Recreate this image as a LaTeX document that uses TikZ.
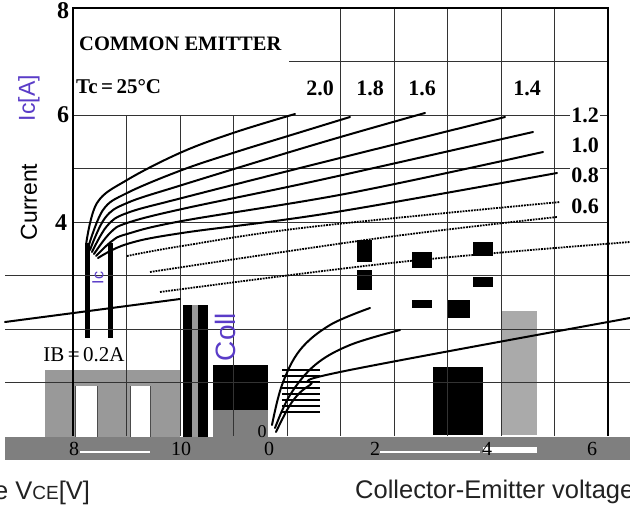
\documentclass[tikz,border=0pt]{standalone}
\usepackage{fontspec}
\setmainfont{Liberation Serif}
\newfontfamily\arialf{Liberation Sans}
\definecolor{bandgray}{HTML}{7F7F7F}
\definecolor{blockgray}{HTML}{999999}
\definecolor{lightbar}{HTML}{AAAAAA}
\definecolor{purp}{HTML}{5A3CC8}
\definecolor{axtext}{HTML}{222222}
\begin{document}
\begin{tikzpicture}[x=1pt,y=-1pt,
  gridline/.style={draw=black!80,line width=0.9pt},
  frameline/.style={draw=black,line width=1.5pt},
  curve/.style={draw=black,line width=2pt,line cap=round},
  dotcurve/.style={draw=black,line width=1.8pt,densely dotted},
  serlbl/.style={font=\bfseries\fontsize{22}{22}\selectfont,inner sep=1pt},
  tiklbl/.style={font=\bfseries\fontsize{22}{22}\selectfont,inner sep=1pt,fill=white},
  sanslbl/.style={font=\arialf\fontsize{25.5}{25.5}\selectfont,text=axtext,inner sep=0pt},
  vlbl/.style={font=\arialf\fontsize{23}{23}\selectfont,rotate=90,inner sep=0pt}]
\fill[white] (0,0) rectangle (630,512);
\useasboundingbox (0,0) rectangle (630,512);

% ---- lower glitch blocks (background) ----
\fill[blockgray] (45,370) rectangle (180,437);
\fill[white] (75,386) rectangle (97,437);
\fill[white] (130,386) rectangle (150,437);
\draw[black!70,line width=1pt] (75,386) -- (75,437) (97,386) -- (97,437) (130,386) -- (130,437) (150,386) -- (150,437);
\fill[black] (183,305) rectangle (192,437);
\fill[blockgray] (192,305) rectangle (198,437);
\fill[black] (198,305) rectangle (208,437);
\fill[black] (213,365) rectangle (268,410);
\fill[bandgray] (213,410) rectangle (268,437);
\fill[black] (433,367) rectangle (483,435);
\fill[lightbar] (502,311) rectangle (537,435);
\fill[black] (85,243) rectangle (90,338);
\fill[black] (108,243) rectangle (113,338);
\fill[black] (357,240) rectangle (372,262);
\fill[black] (357,270) rectangle (372,290);
\fill[black] (412,252) rectangle (432,268);
\fill[black] (473,242) rectangle (493,256);
\fill[black] (473,277) rectangle (493,287);
\fill[black] (448,300) rectangle (470,318);
\fill[black] (412,300) rectangle (432,308);

% ---- grid ----
\foreach \k in {1,...,4} \draw[gridline] ({73+53.5*\k},115) -- ({73+53.5*\k},436);
\foreach \k in {5,...,9} \draw[gridline] ({73+53.5*\k},8) -- ({73+53.5*\k},436);
\draw[gridline] (289,61.5) -- (608,61.5);
\foreach \j in {2,3,4} \draw[gridline] (73,{8+53.5*\j}) -- (608,{8+53.5*\j});
\foreach \j in {5,6,7} \draw[gridline] (5,{8+53.5*\j}) -- (630,{8+53.5*\j});
\draw[frameline] (73,436) -- (73,8) -- (608,8) -- (608,436);

% ---- characteristic curves ----
\draw[curve] plot[smooth,tension=0.6] coordinates {(86,245) (97,203) (127,180) (182,152) (236,132) (295,114)};
\draw[curve] plot[smooth,tension=0.6] coordinates {(88,248) (103,210) (127,193) (182,170) (236,152) (288,136) (350,117)};
\draw[curve] plot[smooth,tension=0.6] coordinates {(90,250) (105,218) (127,203) (182,185) (320,143) (425,113)};
\draw[curve] plot[smooth,tension=0.6] coordinates {(92,252) (107,226) (127,213) (182,198) (320,163) (505,117)};
\draw[curve] plot[smooth,tension=0.6] coordinates {(94,254) (110,233) (127,223) (182,209) (320,180) (533,132)};
\draw[curve] plot[smooth,tension=0.6] coordinates {(96,256) (112,241) (127,234) (182,221) (350,193) (543,152)};
\draw[curve] plot[smooth,tension=0.6] coordinates {(98,258) (127,244) (182,233) (330,213) (557,173)};
\draw[dotcurve] plot[smooth,tension=0.6] coordinates {(127,256) (182,246) (310,227) (560,202)};
\draw[dotcurve] plot[smooth,tension=0.6] coordinates {(150,272) (380,238) (557,217)};
\draw[dotcurve] plot[smooth,tension=0.6] coordinates {(160,292) (400,262) (630,242)};

% ---- lower glitch curves ----
\draw[curve] (5,322) -- (180,299);
\draw[curve] plot[smooth,tension=0.6] coordinates {(272,425) (282,385) (300,350) (330,325) (370,308)};
\draw[curve] plot[smooth,tension=0.6] coordinates {(275,428) (290,395) (315,365) (350,345) (400,330)};
\draw[curve] plot[smooth,tension=0.6] coordinates {(276,432) (292,402) (310,385) (340,372) (630,318)};
\foreach \yy in {370,376,...,412} \draw[black,line width=1.2pt] (282,\yy) -- (320,\yy);

% ---- bottom band ----
\fill[bandgray] (5,437) rectangle (630,460);
\draw[white,line width=1.5pt] (80,452) -- (150,452) (380,452) -- (480,452);
\fill[white] (483,447) rectangle (537,453);

% ---- texts ----
\node[serlbl,font=\bfseries\fontsize{20.5}{20.5}\selectfont,anchor=west] (ce) at (78,44) {COMMON EMITTER};
\node[serlbl,font=\bfseries\fontsize{21}{21}\selectfont,anchor=west] (tc) at (75,87) {Tc\,=\,25°C};
\node[serlbl] (b20) at (320,88) {2.0};
\node[serlbl] (b18) at (370,88) {1.8};
\node[serlbl] (b16) at (422,88) {1.6};
\node[serlbl] (b14) at (527,88) {1.4};
\node[tiklbl] (b12) at (585,115) {1.2};
\node[tiklbl] (b10) at (585,145) {1.0};
\node[tiklbl] (b08) at (585,175) {0.8};
\node[tiklbl] (b06) at (585,206) {0.6};
\node[serlbl,font=\bfseries\fontsize{24}{24}\selectfont] (y8) at (63,11) {8};
\node[serlbl,font=\bfseries\fontsize{24}{24}\selectfont] (y6) at (63,115) {6};
\node[serlbl,font=\bfseries\fontsize{24}{24}\selectfont] (y4) at (61,223) {4};
\node[serlbl,font=\fontsize{21}{21}\selectfont] (ib) at (84,355) {IB\,=\,0.2A};
\node[serlbl,font=\fontsize{18}{18}\selectfont] (x0b) at (262,432) {0};
\foreach \lab/\xx in {8/74,10/181,0/269,2/375,4/487,6/592}
  \node[serlbl,font=\fontsize{20}{20}\selectfont] (xt\lab) at (\xx,449) {\lab};
\node[vlbl,text=purp] (ica) at (29,98) {Ic[A]};
\node[vlbl] (cur) at (29,202) {Current};
\node[vlbl,text=purp,font=\arialf\fontsize{16}{16}\selectfont] (icb) at (98,278) {Ic};
\node[vlbl,text=purp,font=\arialf\fontsize{28}{28}\selectfont] (coll) at (225,337) {Coll};
\node[sanslbl,anchor=base west] (vce) at (-6,499) {e V{\fontsize{19}{19}\selectfont CE}[V]};
\node[sanslbl,anchor=base west] (cev) at (355,498) {Collector-Emitter voltage};
\end{tikzpicture}
\end{document}
